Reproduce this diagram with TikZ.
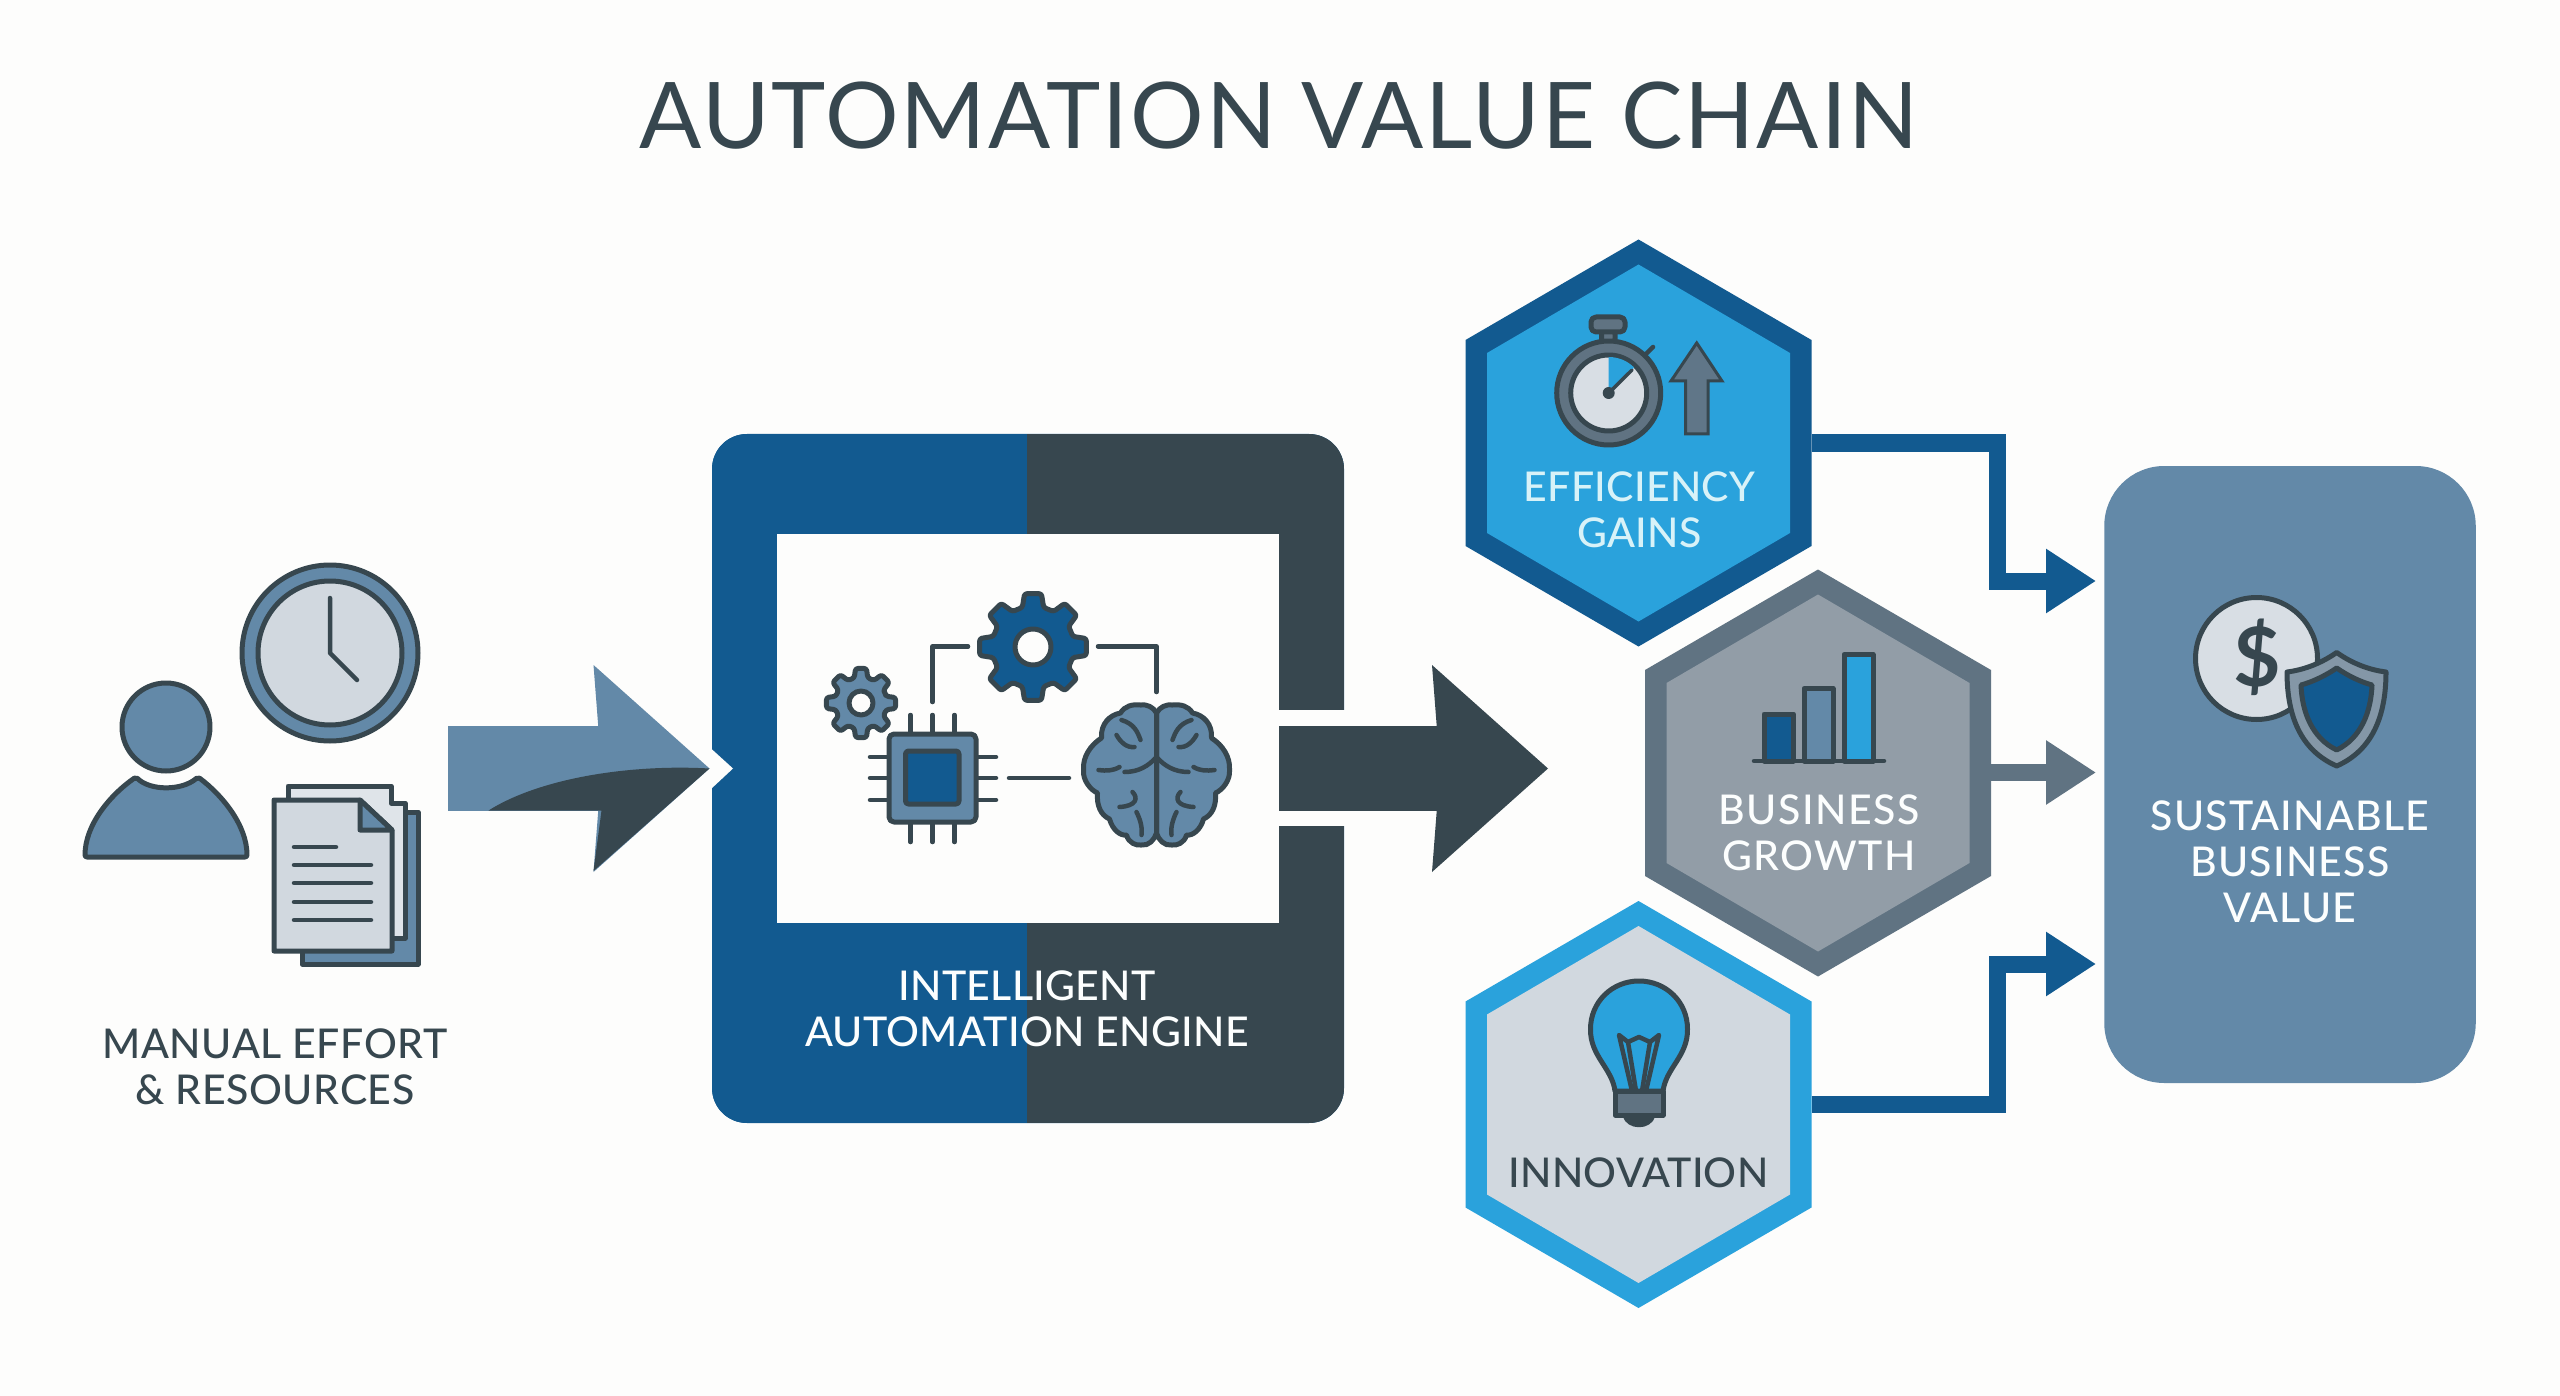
\documentclass[tikz,border=0pt]{standalone}
\usepackage{fontspec}
\setmainfont{Lato}
\newfontfamily\latomed{Lato Medium}
\usetikzlibrary{arrows.meta}
\definecolor{bgc}{HTML}{FDFDFC}
\definecolor{ink}{HTML}{37474F}
\definecolor{navy}{HTML}{125A90}
\definecolor{midb}{HTML}{6389A8}
\definecolor{sky}{HTML}{2AA2DC}
\definecolor{pale}{HTML}{D1D8DF}
\definecolor{slate}{HTML}{607382}
\definecolor{ash}{HTML}{929DA7}
\definecolor{frost}{HTML}{D8F2F8}
\newcommand\gearicon[7]{% x y R root hole fill holeStroke
  \begin{scope}[shift={(#1,#2)}]
    \draw[icon,fill=#6,rounded corners=2.5pt,even odd rule]
      (-22.5:#4) \foreach \a in {0,45,...,315}{ -- (\a-15:#4) -- (\a-9:#3) -- (\a+9:#3) -- (\a+15:#4)} -- cycle;
    \draw[icon,fill=bgc,draw=#7] (0,0) circle[radius=#5];
  \end{scope}}
\newcommand\hexicon[8]{% x y halfW halfH shoulderY unused fill border
  \fill[#8] (#1,#2-#4) -- (#1+#3,#2-#5) -- (#1+#3,#2+#5) -- (#1,#2+#4) -- (#1-#3,#2+#5) -- (#1-#3,#2-#5) -- cycle;
  \fill[#7] (#1,#2-#4+25) -- (#1+#3-21.5,#2-#5+13) -- (#1+#3-21.5,#2+#5-13) -- (#1,#2+#4-25) -- (#1-#3+21.5,#2+#5-13) -- (#1-#3+21.5,#2-#5+13) -- cycle;}
\tikzset{
  icon/.style={draw=ink,line width=5pt,line join=round},
  thin icon/.style={draw=ink,line width=4.5pt,line cap=round,line join=round},
  hexbox/.style={minimum width=346pt,minimum height=406pt,inner sep=0pt},
  label/.style={inner sep=0pt,align=center,font=\latomed\fontsize{41}{46}\selectfont},
  flow/.style={line width=17pt,-{Triangle[length=50pt,width=61pt]}},
  bigflow/.style={line width=85pt,draw=#1,-{Stealth[length=116pt,width=207pt,inset=8pt,line width=0pt]}}
}
\begin{document}
\begin{tikzpicture}[x=1pt,y=-1pt]
\useasboundingbox (0,0) rectangle (2560,1396);
\fill[bgc] (0,0) rectangle (2560,1396);
% title
\node[inner sep=0pt,text=ink,font=\fontsize{92}{100}\selectfont\addfontfeatures{LetterSpace=2.2}] (title) at (1279,116) {AUTOMATION VALUE CHAIN};

% manual effort icons
\draw[icon,fill=midb] (166,727) circle[radius=44];
\draw[icon,fill=midb,rounded corners=2pt] (85,857) .. controls (85,825) and (110,795) .. (136,777) .. controls (150,791) and (182,791) .. (198,777) .. controls (222,795) and (247,825) .. (247,857) -- cycle;
\draw[icon,fill=midb] (330,653) circle[radius=88];
\draw[icon,fill=pale] (330,653) circle[radius=72];
\draw[thin icon] (330,598) -- (330,653) -- (357,680);
\draw[icon,fill=midb] (302,812) rectangle (418,964);
\draw[icon,fill=pale!70!white] (288,786) -- (391,786) -- (391,803) -- (405,803) -- (405,938) -- (288,938) -- cycle;
\draw[icon,fill=pale] (274,800) -- (360,800) -- (392,830) -- (392,951) -- (274,951) -- cycle;
\draw[icon,fill=midb] (360,800) -- (360,830) -- (392,830) -- cycle;
\foreach \ly/\lx in {847/336,865/371,883/371,902/371,920/371}
  \draw[thin icon] (294,\ly) -- (\lx,\ly);
\node[label,text=ink,font=\latomed\fontsize{41}{46}\selectfont\addfontfeatures{LetterSpace=1.5}] (manual) at (275,1067) {MANUAL EFFORT\\\& RESOURCES};

% engine
\node[minimum width=632pt,minimum height=689pt,inner sep=0pt,rounded corners=35pt,fill=navy] (engine) at (1028,778.5) {};
\begin{scope}
  \clip[rounded corners=35pt] (712,434) rectangle (1344,1123);
  \fill[navy] (712,434) rectangle (1027,1123);
  \fill[ink] (1027,434) rectangle (1344,1123);
\end{scope}
\fill[bgc] (776.5,534) rectangle (1279,923);
\fill[bgc] (1279,709.5) rectangle (1345,826);
\fill[bgc] (711,748.5) -- (733,768.5) -- (711,789) -- cycle;
\node[label,text=white!92!frost,font=\latomed\fontsize{41}{46}\selectfont\addfontfeatures{LetterSpace=0.7}] (engineLabel) at (1027,1009) {INTELLIGENT\\AUTOMATION ENGINE};

% engine icons
\gearicon{1033}{647}{54}{41}{18}{navy}{ink}
\gearicon{861}{703}{35}{26}{12}{midb}{ink}
\draw[thin icon] (932.5,702) -- (932.5,646.5) -- (968,646.5);
\draw[thin icon] (1098,646.5) -- (1156.5,646.5) -- (1156.5,692);
\draw[thin icon] (1009,778) -- (1069,778);
\foreach \px in {910.5,932.5,954.5} \draw[thin icon] (\px,715) -- (\px,842);
\foreach \py in {757,778,800} \draw[thin icon] (870,\py) -- (996,\py);
\draw[icon,fill=midb,rounded corners=5pt] (889,734) rectangle (976,822);
\draw[icon,fill=navy,rounded corners=3pt] (905.5,751) rectangle (959,804);
\begin{scope}[shift={(1156.5,0)}]
  \foreach \s in {1,-1}{
  \begin{scope}[xscale=\s]
    \draw[icon,fill=midb] (0,713) .. controls (3,707) and (10,704) .. (16,705) .. controls (24,704) and (32,706) .. (36,713) .. controls (47,715) and (56,724) .. (55,738) .. controls (66,745) and (74,757) .. (73,770) .. controls (74,780) and (66,790) .. (59,793) .. controls (60,805) and (56,815) .. (47,819) .. controls (44,830) and (36,836) .. (30,835) .. controls (28,843) and (20,846) .. (15,845) .. controls (8,846) and (2,840) .. (0,833) -- cycle;
    \draw[thin icon] (16,740) .. controls (19,732) and (22,724) .. (35,720);
    \draw[thin icon] (0,757) .. controls (8,766) and (18,772) .. (32,772);
    \draw[thin icon] (22,747) .. controls (30,748) and (36,742) .. (40,735);
    \draw[thin icon] (37,767) .. controls (44,771) and (50,771) .. (58,770);
    \draw[thin icon] (24,792) .. controls (18,798) and (20,806) .. (37,807);
    \draw[thin icon] (20,812) .. controls (16,820) and (14,828) .. (15,835);
  \end{scope}}
\end{scope}

% hexagons
\hexicon{1638.5}{443}{173}{203.5}{103}{}{sky}{navy}
\hexicon{1818}{773}{173}{203.5}{103}{}{ash}{slate}
\hexicon{1638.5}{1104.5}{173}{203.5}{103}{}{pale}{sky}
\node[hexbox] (effHex) at (1638.5,443) {};
\node[hexbox] (growHex) at (1818,772.5) {};
\node[hexbox] (innoHex) at (1638.5,1104) {};
\node[label,text=frost,font=\latomed\fontsize{41}{46}\selectfont\addfontfeatures{LetterSpace=0.6}] (effLabel) at (1639.5,510) {EFFICIENCY\\GAINS};
\node[label,text=white!92!frost,font=\latomed\fontsize{41}{46}\selectfont\addfontfeatures{LetterSpace=3.5}] (growLabel) at (1819,833) {BUSINESS\\GROWTH};
\node[label,text=ink,font=\latomed\fontsize{41}{46}\selectfont\addfontfeatures{LetterSpace=0.6}] (innoLabel) at (1638.5,1173) {INNOVATION};

% stopwatch
\draw[icon,fill=slate,rounded corners=3pt] (1601.5,331) rectangle (1615,342);
\draw[icon,fill=slate,rounded corners=5pt] (1591,317) rectangle (1625,332);
\draw[thin icon] (1642,358) -- (1653,347);
\draw[icon,fill=slate] (1608.7,393) circle[radius=52];
\draw[icon,fill=pale!85!white] (1608.7,393) circle[radius=38];
\fill[sky] (1608.7,393) -- (1608.7,357) arc[start angle=-90,end angle=-45,radius=36] -- cycle;
\draw[ink,line width=3.5pt,line cap=round] (1608.7,393) -- (1632,370);
\fill[ink] (1608.7,393) circle[radius=6];
\draw[line width=3pt,draw=ink,fill=slate!85!midb,line join=miter] (1696.7,343) -- (1722,381) -- (1708,381) -- (1708,434) -- (1685.5,434) -- (1685.5,381) -- (1671,381) -- cycle;

% bar chart
\draw[icon,fill=navy] (1764,761) rectangle (1793.5,714);
\draw[icon,fill=midb] (1804,761) rectangle (1833,688.5);
\draw[icon,fill=sky] (1844,761) rectangle (1873,654.5);
\draw[thin icon] (1754,761) -- (1884,761);

% bulb
\draw[icon,fill=sky] (1615,1091) .. controls (1612,1068) and (1590,1056) .. (1590.5,1029) .. controls (1590.5,1002) and (1612,981) .. (1639,981) .. controls (1666,981) and (1687.5,1002) .. (1687.5,1029) .. controls (1688,1056) and (1666,1068) .. (1663,1091) -- cycle;
\draw[thin icon] (1632,1091) -- (1619,1035) -- (1628,1042) -- (1639,1037) -- (1650,1042) -- (1659,1035) -- (1646,1091);
\draw[thin icon] (1628,1042) -- (1636,1091);
\draw[thin icon] (1650,1042) -- (1642,1091);
\draw[icon,fill=ink] (1625,1115) .. controls (1628,1128) and (1650,1128) .. (1653,1115) -- cycle;
\draw[icon,fill=slate] (1615,1091) rectangle (1663,1115);

% value panel
\node[minimum width=371.5pt,minimum height=617pt,inner sep=0pt,rounded corners=60pt,fill=midb] (value) at (2290,774.5) {};
\node[label,text=white!92!frost,font=\latomed\fontsize{41}{46}\selectfont\addfontfeatures{LetterSpace=3}] (valueLabel) at (2290,861.5) {SUSTAINABLE\\BUSINESS\\VALUE};
\draw[icon,fill=pale!85!white] (2256.5,658.5) circle[radius=61];
\node[inner sep=0pt,text=ink,font=\bfseries\fontsize{82}{84}\selectfont] (dollar) at (2257,657) {\$};
\draw[icon,fill=ash!70!midb] (2336.7,652.5) .. controls (2320,664) and (2303,670) .. (2287,672) .. controls (2287,715) and (2300,750) .. (2336.7,766) .. controls (2373,750) and (2386,715) .. (2386,672) .. controls (2370,670) and (2353,664) .. (2336.7,652.5) -- cycle;
\draw[icon,fill=navy] (2336.7,668) .. controls (2325,676) and (2312,682) .. (2301,685) .. controls (2302,712) and (2312,738) .. (2336.7,750) .. controls (2361,738) and (2371,712) .. (2372,685) .. controls (2361,682) and (2348,676) .. (2336.7,668) -- cycle;

% big arrows
\coordinate (inStart) at (448,768.5);
\coordinate (inEnd) at (709.5,768.5);
\coordinate (outStart) at (1279,768.5);
\coordinate (outEnd) at (1548,768.5);
\draw[bigflow=midb] (inStart) -- (inEnd);
\fill[ink] (488.5,810.5) .. controls (540,778) and (630,764) .. (inEnd) -- (593.5,871) -- (601.5,810.5) -- cycle;
\draw[bigflow=ink] (outStart) -- (outEnd);

% value connectors
\coordinate (effBend) at (1997.5,443);
\coordinate (effIn) at (2096,581);
\coordinate (growIn) at (2096,772.5);
\coordinate (innoBend) at (1997.5,1104);
\coordinate (innoIn) at (2096,964);
\draw[flow,draw=navy] (effHex.east) -- (effBend) |- (effIn);
\draw[flow,draw=slate] (growHex.east) -- (growIn);
\draw[flow,draw=navy] (innoHex.east) -- (innoBend) |- (innoIn);
\end{tikzpicture}
\end{document}
